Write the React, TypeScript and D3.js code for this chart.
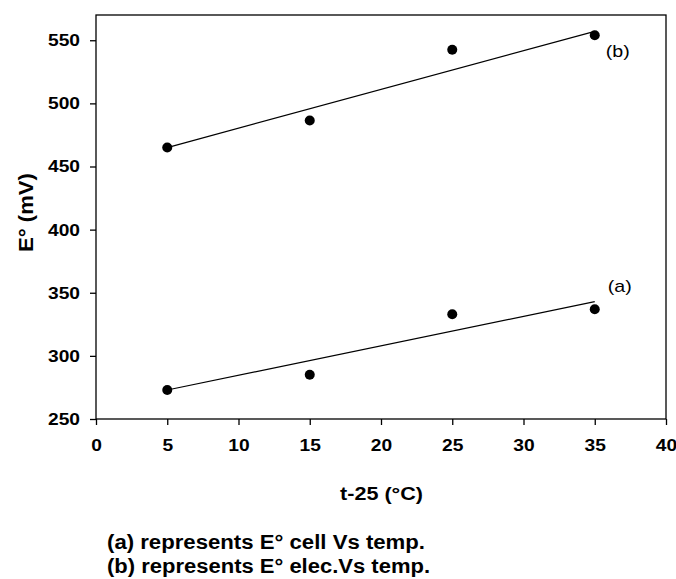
import React, { useEffect, useRef } from "react";
import * as d3 from "d3";

// Temperature offsets t-25 (°C)
const tempOffsets = [5, 15, 25, 35];
// (a) E° cell (mV)
const eCell = [273, 285, 333, 337];
// (b) E° electrode (mV)
const eElec = [465, 486.5, 542.5, 554];
// Fitted straight lines, value at first and last temperature
const fitX = [5, 35];
const fitCell = [273, 343];
const fitElec = [465, 557];

const xTicks = [0, 5, 10, 15, 20, 25, 30, 35, 40];
const yTicks = [250, 300, 350, 400, 450, 500, 550];

const notes = ["(a) represents E° cell Vs temp.", "(b) represents E° elec.Vs temp."];

const W = 676;
const H = 579;
const margin = { left: 96, top: 15, right: 10, bottom: 160 };
const FONT = "'Liberation Sans', Arial, sans-serif";
const STRETCH = 1.13;

export default function App() {
  const ref = useRef<SVGSVGElement | null>(null);

  useEffect(() => {
    const svg = d3.select(ref.current);
    svg.selectAll("*").remove();

    const x = d3.scaleLinear().domain([0, 40]).range([margin.left, W - margin.right]);
    const y = d3.scaleLinear().domain([250, 570]).range([H - margin.bottom, margin.top]);

    const g = svg.append("g");

    const xAxis = g
      .append("g")
      .attr("transform", `translate(0,${y(250)})`)
      .call(d3.axisBottom(x).tickValues(xTicks).tickSize(6).tickPadding(14).tickFormat(d3.format("d")));
    const yAxis = g
      .append("g")
      .attr("transform", `translate(${x(0)},0)`)
      .call(d3.axisLeft(y).tickValues(yTicks).tickSize(6).tickPadding(10).tickFormat(d3.format("d")));

    [xAxis, yAxis].forEach((a) => {
      a.select(".domain").remove();
      a.selectAll(".tick line").attr("stroke-width", 1.3);
      a.selectAll("text")
        .attr("font-family", FONT)
        .attr("font-weight", "bold")
        .attr("font-size", 17)
        .attr("fill", "#000");
    });
    // widen the tick labels horizontally
    xAxis.selectAll("text").attr("transform", `scale(${STRETCH},1)`);
    yAxis
      .selectAll("text")
      .attr("x", -16 / STRETCH)
      .attr("transform", `scale(${STRETCH},1)`);

    // plot frame
    g.append("rect")
      .attr("x", x(0))
      .attr("y", y(570))
      .attr("width", x(40) - x(0))
      .attr("height", y(250) - y(570))
      .attr("fill", "none")
      .attr("stroke", "#000")
      .attr("stroke-width", 1.3);

    const line = d3
      .line<number>()
      .x((_, i) => x(fitX[i]))
      .y((d) => y(d));

    [fitCell, fitElec].forEach((f) => {
      g.append("path")
        .attr("d", line(f))
        .attr("fill", "none")
        .attr("stroke", "#000")
        .attr("stroke-width", 1.2);
    });

    [eCell, eElec].forEach((series) => {
      g.selectAll(null)
        .data(series)
        .enter()
        .append("circle")
        .attr("cx", (_, i) => x(tempOffsets[i]))
        .attr("cy", (d) => y(d))
        .attr("r", 5)
        .attr("fill", "#000");
    });

    // series labels
    g.append("text")
      .attr("x", x(35) + 11)
      .attr("y", y(fitElec[1]) + 26)
      .attr("font-family", FONT)
      .attr("font-size", 17)
      .attr("textLength", 24)
      .attr("lengthAdjust", "spacingAndGlyphs")
      .text("(b)");
    g.append("text")
      .attr("x", x(35) + 13)
      .attr("y", y(fitCell[1]) - 10)
      .attr("font-family", FONT)
      .attr("font-size", 17)
      .attr("textLength", 24)
      .attr("lengthAdjust", "spacingAndGlyphs")
      .text("(a)");

    // axis titles
    g.append("text")
      .attr("x", 340)
      .attr("y", 500)
      .attr("font-family", FONT)
      .attr("font-weight", "bold")
      .attr("font-size", 19)
      .attr("textLength", 83)
      .attr("lengthAdjust", "spacingAndGlyphs")
      .text("t-25 (°C)");
    g.append("text")
      .attr("transform", `translate(33,252) rotate(-90)`)
      .attr("font-family", FONT)
      .attr("font-weight", "bold")
      .attr("font-size", 20)
      .attr("textLength", 79)
      .attr("lengthAdjust", "spacingAndGlyphs")
      .text("E° (mV)");

    // notes under the chart
    const noteLengths = [318, 323];
    notes.forEach((t, i) => {
      g.append("text")
        .attr("x", 107)
        .attr("y", 549 + i * 24)
        .attr("font-family", FONT)
        .attr("font-weight", "bold")
        .attr("font-size", 20)
        .attr("textLength", noteLengths[i])
        .attr("lengthAdjust", "spacingAndGlyphs")
        .text(t);
    });
  }, []);

  return (
    <svg
      ref={ref}
      width={W}
      height={H}
      style={{ position: "fixed", left: 0, top: 0, display: "block", background: "#fff" }}
    />
  );
}
